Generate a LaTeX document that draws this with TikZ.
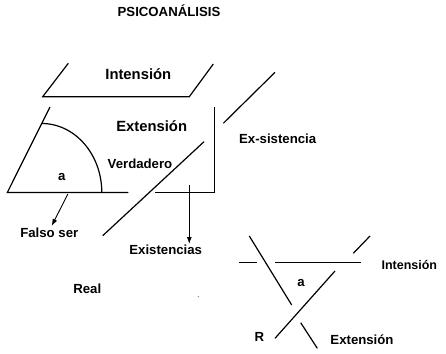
\documentclass[tikz,border=0pt]{standalone}
\usepackage{fontspec}
\setmainfont{Liberation Sans}
\usetikzlibrary{arrows.meta}
\begin{document}
\begin{tikzpicture}[x=1pt,y=-1pt,
  ln/.style={line width=1.2pt},
  arr/.style={line width=0.9pt,-{Latex[length=7pt,width=5pt]}},
  lbl/.style={font=\bfseries\fontsize{13.2}{15}\selectfont,inner sep=0pt},
  sml/.style={font=\bfseries\fontsize{12.5}{14}\selectfont,inner sep=0pt},
  big/.style={font=\bfseries\fontsize{14.8}{17}\selectfont,inner sep=0pt}]
\useasboundingbox (0,0) rectangle (446,353);
% title
\node[lbl] (title) at (169,11) {PSICOANÁLISIS};
% Intension parallelogram
\draw[ln] (68.3,63.3) -- (42.7,96.7) -- (189.3,96.7) -- (213.3,64);
\node[big] (int1) at (138.3,74) {Intensión};
\node[big] (ext1) at (151.7,126) {Extensión};
% left triangle with arc
\draw[ln] (50,107) -- (7.3,192.5) -- (128.3,192.5);
\draw[ln] (41.8,123.5) arc[start angle=-90,end angle=0,x radius=60,y radius=69];
\node[lbl] (a1) at (61.7,177) {a};
% Verdadero diagonal
\node[lbl] (ver) at (140,163.3) {Verdadero};
\draw[ln] (204,141.7) -- (102.7,235.7);
% right box
\draw[ln] (155,192.5) -- (214.8,192.5) -- (214.8,107);
% Ex-sistencia diagonal
\draw[ln] (275,72.3) -- (223.3,123.3);
\node[lbl] (exs) at (277.7,138.3) {Ex-sistencia};
% arrows
\node[lbl,anchor=north] (exi) at (165.7,245) {Existencias};
\coordinate (c1) at (189.3,185);
\draw[arr] (c1) -- (189.3,244);
\node[lbl,anchor=north] (fal) at (49.3,228) {Falso ser};
\coordinate (c2) at (67.8,194);
\draw[arr] (c2) -- (51.7,226);
\node[lbl] (real) at (87.3,288.3) {Real};
\fill[gray] (198.3,296.7) circle (0.7);
% lower right knot
\draw[ln] (249.3,236) -- (291.7,305);
\draw[ln] (239,262.3) -- (256.7,262.3);
\draw[ln] (275,262.3) -- (360.7,262.3);
\draw[ln] (353.3,253.3) -- (370,236);
\draw[ln] (335,271) -- (275,338.3);
\draw[ln] (300.7,322.7) -- (317.3,348.3);
\node[sml] (int2) at (409.3,264.5) {Intensión};
\node[lbl] (a2) at (301,283.3) {a};
\node[lbl] (R) at (259.3,337.3) {R};
\node[lbl] (ext2) at (362,339.5) {Extensión};
\end{tikzpicture}
\end{document}
